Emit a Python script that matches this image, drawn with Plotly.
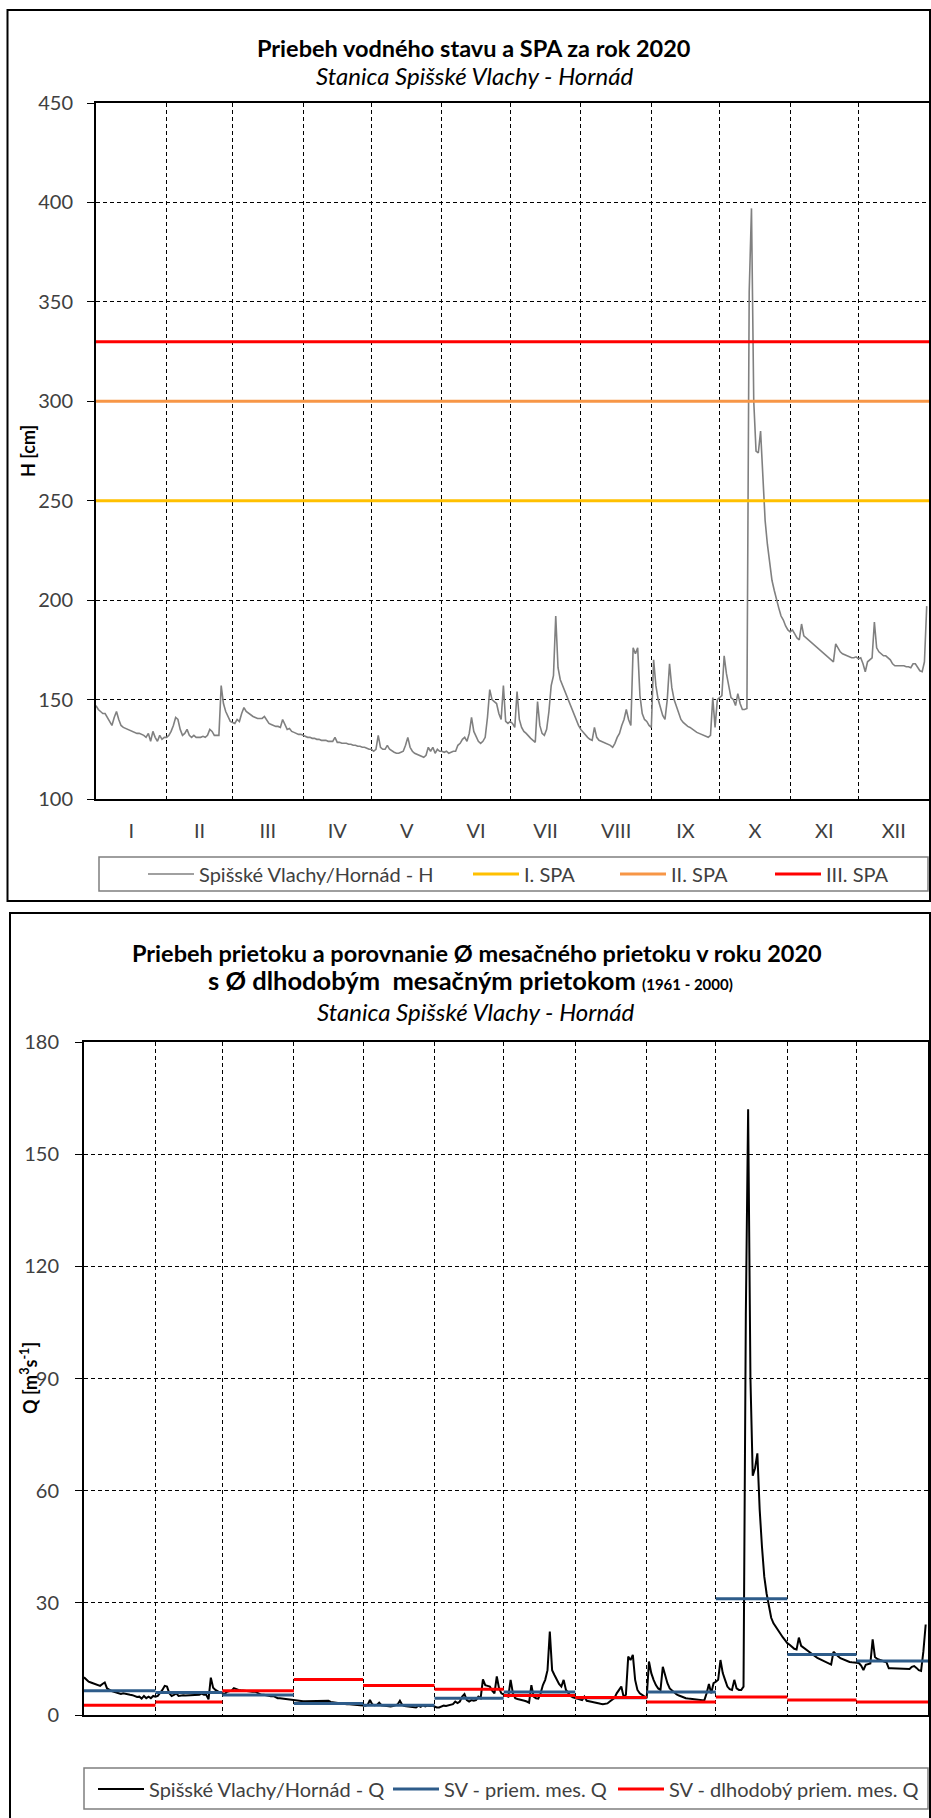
import pandas as pd
import plotly.graph_objects as go

# ---------------- data ----------------
month_labels = ["I", "II", "III", "IV", "V", "VI", "VII", "VIII", "IX", "X", "XI", "XII"]
month_starts = ["2020-01-01", "2020-02-01", "2020-03-01", "2020-04-01", "2020-05-01", "2020-06-01",
                "2020-07-01", "2020-08-01", "2020-09-01", "2020-10-01", "2020-11-01", "2020-12-01",
                "2021-01-01"]

# daily water level H [cm], 2020
h_jan = [147, 145, 144, 143, 143, 141, 139, 137, 141, 144, 140, 137, 136, 135.5, 135, 134.5, 134, 133.5, 133, 133,
         132.5, 132, 131, 133, 129, 134, 131, 129, 132, 130, 131]
h_feb = [131, 132, 134, 137, 141, 140, 135, 132, 133, 135, 132, 131, 132, 131, 131, 131, 131.5, 131, 132, 135,
         134, 132, 132, 132, 157, 148, 144, 141, 139]
h_mar = [138.5, 138, 140, 139, 143, 146, 144, 143, 142, 141.5, 141, 140.5, 140.5, 140.5, 141.5, 139.5, 138, 137.5,
         137, 136.5, 136.5, 136, 140, 137, 135, 135.5, 134, 133.5, 133, 132.5, 132.5]
h_apr = [132, 131.5, 131, 131, 130.5, 130.5, 130, 130, 129.5, 129.5, 129.5, 129, 129, 129, 131, 128.5, 128.5, 128,
         128, 128, 127.5, 127.5, 127, 127, 126.5, 126.5, 126, 126, 125.5, 125]
h_may = [125, 124, 125, 132, 126, 125, 125, 127, 125, 124, 123.5, 123, 123, 123.5, 124, 127, 131, 126, 124, 123,
         122.5, 122, 121.5, 121, 122, 126, 124, 126, 123, 125, 124]
h_jun = [124, 123.5, 124, 123, 123.5, 124, 124, 127, 128, 130, 131, 129, 133, 141, 134, 131, 129, 128, 129, 131,
         141, 155, 150, 149, 148, 143, 140, 157, 139, 138]
h_jul = [139, 138, 136, 154, 140, 136, 134, 133, 131.5, 130.5, 129.5, 128.5, 149, 137, 133, 132, 135, 144, 157, 162,
         192, 166, 160, 157, 155, 152, 148, 145, 142, 139, 137]
h_aug = [135, 133.5, 132, 131, 130, 129.5, 136, 131, 129.5, 129, 128.5, 128, 127.5, 127, 126, 128, 131, 133, 137, 140,
         145, 140, 137, 176, 173, 176, 152, 143, 140, 139, 137]
h_sep = [136, 170, 157, 150, 146, 142, 140, 150, 168, 156, 150, 147, 143, 140, 138.5, 137.5, 136.5, 136, 135, 134,
         133.5, 133, 132.5, 132, 131.5, 131, 132, 151, 136, 150]
h_oct = [151, 152, 172, 163, 157, 151, 150, 147, 153, 148, 145, 145, 145.5, 355, 397, 300, 275, 274, 285, 258,
         240, 228, 218, 210, 205, 200, 196, 192, 190, 187, 185]
h_nov = [184, 185, 183, 181, 180, 188, 182, 181, 180, 179, 178, 177, 176, 175, 174, 173, 172, 171, 170.5, 169,
         178, 176, 174, 173, 172.5, 172, 171.5, 171, 171, 171.5]
h_dec = [170.5, 171, 168, 164, 169, 170, 171, 189, 176, 174, 173, 172, 172, 171, 170, 168, 167, 167, 167, 167,
         167, 166.5, 166.5, 166, 168, 168, 166, 164.5, 164, 169, 197]

# flood activity levels (SPA) [cm]
spa_names = ["I. SPA", "II. SPA", "III. SPA"]
spa_levels = [250, 300, 330]
spa_colors = ["#FFC000", "#F79646", "#FF0000"]

# daily discharge Q [m3/s], 2020
q_jan = [10.1, 9.4, 8.9, 8.7, 8.5, 8.3, 8.0, 7.8, 8.3, 8.7, 7.1, 6.7, 6.4, 6.2, 6.0, 5.8, 5.6, 5.8, 5.6, 5.4,
         5.4, 5.3, 5.1, 4.8, 4.9, 4.4, 5.1, 4.5, 4.9, 4.5, 5.1]
q_feb = [4.9, 5.1, 5.8, 6.7, 7.8, 7.6, 5.8, 5.1, 5.4, 5.8, 5.1, 5.3, 5.3, 5.2, 5.2, 5.2, 5.3, 5.3, 5.4, 5.4,
         5.7, 5.4, 5.4, 4.2, 10.0, 7.3, 6.7, 6.3, 6.0]
q_mar = [5.8, 5.6, 6.2, 6.3, 6.5, 7.2, 6.9, 6.7, 6.6, 6.5, 6.4, 6.4, 6.3, 6.2, 6.3, 6.0, 5.6, 5.4, 5.4, 5.2,
         5.1, 5.0, 5.1, 4.7, 4.5, 4.5, 4.4, 4.3, 4.2, 4.1, 4.0]
q_apr = [4.0, 3.9, 3.8, 3.7, 3.7, 3.7, 3.7, 3.7, 3.6, 3.7, 3.7, 3.7, 3.6, 3.6, 3.6, 3.8, 3.5, 3.4, 3.3, 3.3,
         3.2, 3.1, 3.0, 2.9, 2.9, 2.85, 2.85, 2.8, 2.8, 2.7]
q_may = [2.6, 2.5, 2.7, 4.0, 2.8, 2.6, 2.7, 3.3, 2.6, 2.5, 2.4, 2.3, 2.3, 2.4, 2.5, 2.8, 3.8, 2.7, 2.4, 2.3,
         2.2, 2.0, 1.9, 2.0, 2.5, 2.2, 2.6, 2.3, 2.5, 2.4, 2.5]
q_jun = [2.2, 2.0, 2.0, 2.2, 2.5, 2.4, 2.6, 2.8, 2.9, 3.6, 3.2, 3.6, 4.9, 5.6, 4.0, 3.6, 4.0, 3.8, 4.0, 4.9,
         4.5, 9.5, 8.0, 7.8, 7.6, 6.5, 5.8, 10.3, 7.1, 5.8]
q_jul = [5.4, 5.1, 4.9, 9.4, 5.8, 4.5, 4.3, 4.2, 4.0, 3.8, 3.6, 3.3, 8.0, 4.9, 4.5, 4.4, 5.8, 8.0, 9.4, 12.0,
         22.3, 12.0, 10.7, 9.4, 8.3, 7.6, 9.4, 6.7, 5.8, 5.1, 4.7]
q_aug = [4.5, 4.2, 4.0, 4.0, 4.9, 3.8, 3.7, 3.6, 3.5, 3.3, 3.1, 3.0, 2.9, 2.9, 3.1, 3.6, 4.0, 4.5, 5.8, 6.7,
         7.6, 4.9, 5.4, 15.6, 14.7, 16.1, 9.4, 6.7, 5.8, 5.4, 4.9]
q_sep = [4.5, 14.3, 11.2, 9.4, 8.0, 7.1, 6.7, 12.9, 10.3, 8.5, 7.1, 6.5, 6.0, 5.5, 5.2, 4.9, 4.7, 4.5, 4.4, 4.3,
         4.2, 4.1, 4.0, 4.0, 4.0, 3.9, 5.8, 8.3, 5.8, 8.5]
q_oct = [8.9, 9.4, 14.7, 11.2, 9.4, 7.6, 6.9, 6.7, 9.4, 7.1, 6.7, 6.7, 7.6, 107, 162, 90, 64, 66, 70, 55,
         45, 37, 32.5, 29, 26, 24.5, 23.5, 22.5, 21.6, 20.8, 20.0]
q_nov = [19.2, 18.8, 18.2, 17.7, 17.5, 20.7, 18.5, 18.0, 17.5, 17.0, 16.5, 16.0, 15.7, 15.3, 15.0, 14.7, 14.4,
         14.1, 13.9, 13.5, 16.9, 16.2, 15.7, 15.2, 14.9, 14.6, 14.4, 14.2, 14.1, 14.0]
q_dec = [14.0, 13.9, 13.2, 12.0, 13.4, 13.5, 13.8, 20.2, 15.5, 15.0, 14.7, 14.4, 14.3, 14.1, 12.5, 12.5, 12.5,
         12.5, 12.5, 12.5, 12.4, 12.4, 12.3, 12.3, 12.9, 13.1, 12.6, 12.0, 11.8, 17.0, 24.2]

# monthly mean discharge 2020 and long-term (1961-2000) monthly mean [m3/s]
q_mean_2020 = [6.5, 6.0, 5.35, 3.1, 2.6, 4.5, 6.15, 4.6, 6.15, 31.1, 16.2, 14.45]
q_mean_longterm = [2.6, 3.5, 6.5, 9.5, 7.9, 6.9, 5.2, 4.7, 3.5, 4.8, 4.0, 3.5]

# ---------------- build ----------------
days = pd.date_range("2020-01-01", "2020-12-31", freq="D")
h_values = h_jan + h_feb + h_mar + h_apr + h_may + h_jun + h_jul + h_aug + h_sep + h_oct + h_nov + h_dec
q_values = q_jan + q_feb + q_mar + q_apr + q_may + q_jun + q_jul + q_aug + q_sep + q_oct + q_nov + q_dec

ms = pd.to_datetime(month_starts)
mid_months = [ms[i] + (ms[i + 1] - ms[i]) / 2 for i in range(12)]


def month_steps(vals):
    xs, ys = [], []
    for i, v in enumerate(vals):
        xs += [ms[i], ms[i + 1], None]
        ys += [v, v, None]
    return xs, ys


W, HT = 931, 1818


def px(x):
    return x / W


def py(y):
    return 1 - y / HT


FONT = "Lato, 'Open Sans', sans-serif"
TXT = "#404040"

fig = go.Figure()

fig.add_trace(go.Scatter(x=days, y=h_values, mode="lines", name="Spišské Vlachy/Hornád - H",
                         line=dict(color="#808080", width=1.6), xaxis="x", yaxis="y", legend="legend"))
for i, (nm, lv, col) in enumerate(zip(spa_names, spa_levels, spa_colors)):
    fig.add_trace(go.Scatter(x=[ms[0], ms[-1]], y=[lv, lv], mode="lines", name=nm,
                             line=dict(color=col, width=3), xaxis="x", yaxis="y",
                             legend="legend%d" % (i + 2)))

fig.add_trace(go.Scatter(x=days, y=q_values, mode="lines", name="Spišské Vlachy/Hornád - Q",
                         line=dict(color="black", width=2), xaxis="x2", yaxis="y2", legend="legend5"))
bx, by = month_steps(q_mean_2020)
fig.add_trace(go.Scatter(x=bx, y=by, mode="lines", name="SV - priem. mes. Q",
                         line=dict(color="#2E5C8A", width=3), xaxis="x2", yaxis="y2", legend="legend6",
                         connectgaps=False))
rx, ry = month_steps(q_mean_longterm)
fig.add_trace(go.Scatter(x=rx, y=ry, mode="lines", name="SV - dlhodobý priem. mes. Q",
                         line=dict(color="#FF0000", width=3), xaxis="x2", yaxis="y2", legend="legend7",
                         connectgaps=False))

grid = dict(gridcolor="black", griddash="4px,3px", gridwidth=1)
axline = dict(showline=True, linecolor="black", linewidth=2, mirror=True, zeroline=False)

layout = dict(
    width=W, height=HT, autosize=False, showlegend=True,
    margin=dict(l=0, r=0, t=0, b=0, pad=0, autoexpand=False),
    paper_bgcolor="white", plot_bgcolor="white",
    font=dict(family=FONT, color=TXT),
    xaxis=dict(domain=[px(96), px(929)], anchor="y", type="date", range=[ms[0], ms[-1]],
               tickmode="array", tickvals=mid_months, ticktext=month_labels, ticks="", showgrid=False,
               tickfont=dict(size=20, color=TXT), ticklabelstandoff=13,
               minor=dict(tickmode="array", tickvals=list(ms), showgrid=True, ticks="", **grid),
               **axline),
    yaxis=dict(domain=[py(799), py(103)], anchor="x", range=[100, 450], dtick=50, tick0=0,
               ticks="outside", ticklen=7, tickcolor="black", tickwidth=1, showgrid=True, **grid,
               tickfont=dict(size=20, color=TXT), ticklabelstandoff=10,
               **axline),
    xaxis2=dict(domain=[px(84), px(928)], anchor="y2", type="date", range=[ms[0], ms[-1]],
                tickmode="array", tickvals=list(ms), showticklabels=False, ticks="", showgrid=True,
                **grid, **axline),
    yaxis2=dict(domain=[py(1715), py(1042)], anchor="x2", range=[0, 180], dtick=30, tick0=0,
                ticks="outside", ticklen=7, tickcolor="black", tickwidth=1, showgrid=True, **grid,
                tickfont=dict(size=20, color=TXT), ticklabelstandoff=12,
                **axline),
)


def leg(xpx, ypx):
    return dict(x=px(xpx), y=py(ypx), xanchor="left", yanchor="middle", orientation="h",
                bgcolor="rgba(0,0,0,0)", borderwidth=0, itemwidth=46,
                font=dict(family=FONT, size=20, color=TXT))


layout["legend"] = leg(143, 874)
layout["legend2"] = leg(468, 874)
layout["legend3"] = leg(615, 874)
layout["legend4"] = leg(770, 874)
layout["legend5"] = leg(93, 1789)
layout["legend6"] = leg(388, 1789)
layout["legend7"] = leg(613, 1789)

shapes = []
# outer chart frames
shapes.append(dict(type="rect", xref="paper", yref="paper", x0=px(7.5), x1=px(930), y0=py(901), y1=py(10),
                   line=dict(color="black", width=2), layer="below"))
shapes.append(dict(type="rect", xref="paper", yref="paper", x0=px(10), x1=px(930), y0=py(1840), y1=py(913),
                   line=dict(color="black", width=2), layer="below"))
# legend frames
shapes.append(dict(type="rect", xref="paper", yref="paper", x0=px(99), x1=px(928), y0=py(891), y1=py(857),
                   line=dict(color="#7F7F7F", width=1.5), layer="below"))
shapes.append(dict(type="rect", xref="paper", yref="paper", x0=px(84), x1=px(928), y0=py(1809), y1=py(1768),
                   line=dict(color="#7F7F7F", width=1.5), layer="below"))
layout["shapes"] = shapes

ann = []
ann.append(dict(text="<b>Priebeh vodného stavu a SPA za rok 2020</b>", x=px(474), y=py(48),
                font=dict(size=23.5, color="black")))
ann.append(dict(text="<i>Stanica Spišské Vlachy - Hornád</i>", x=px(474), y=py(76),
                font=dict(size=24, color="black")))
ann.append(dict(text="<b>Priebeh prietoku a porovnanie Ø mesačného prietoku v roku 2020</b>", x=px(477),
                y=py(953), font=dict(size=23.5, color="black")))
ann.append(dict(text="<b>s Ø dlhodobým  mesačným prietokom <span style='font-size:15px'>(1961 - 2000)</span></b>",
                x=px(470), y=py(980), font=dict(size=25.5, color="black")))
ann.append(dict(text="<i>Stanica Spišské Vlachy - Hornád</i>", x=px(475), y=py(1011),
                font=dict(size=24, color="black")))
ann.append(dict(text="<b>H [cm]</b>", x=px(28), y=py(451), textangle=-90,
                font=dict(size=18, color="black")))
ann.append(dict(text="<b>Q [m<sup>3</sup>s<sup>-1</sup>]</b>", x=px(29), y=py(1378), textangle=-90,
                font=dict(size=18, color="black")))
for a in ann:
    a.update(xref="paper", yref="paper", xanchor="center", yanchor="middle", showarrow=False)
layout["annotations"] = ann

fig.update_layout(**layout)

fig.write_html("out.html", config={"displayModeBar": False},
               post_script="document.body.style.margin='0';document.body.style.overflow='hidden';")
